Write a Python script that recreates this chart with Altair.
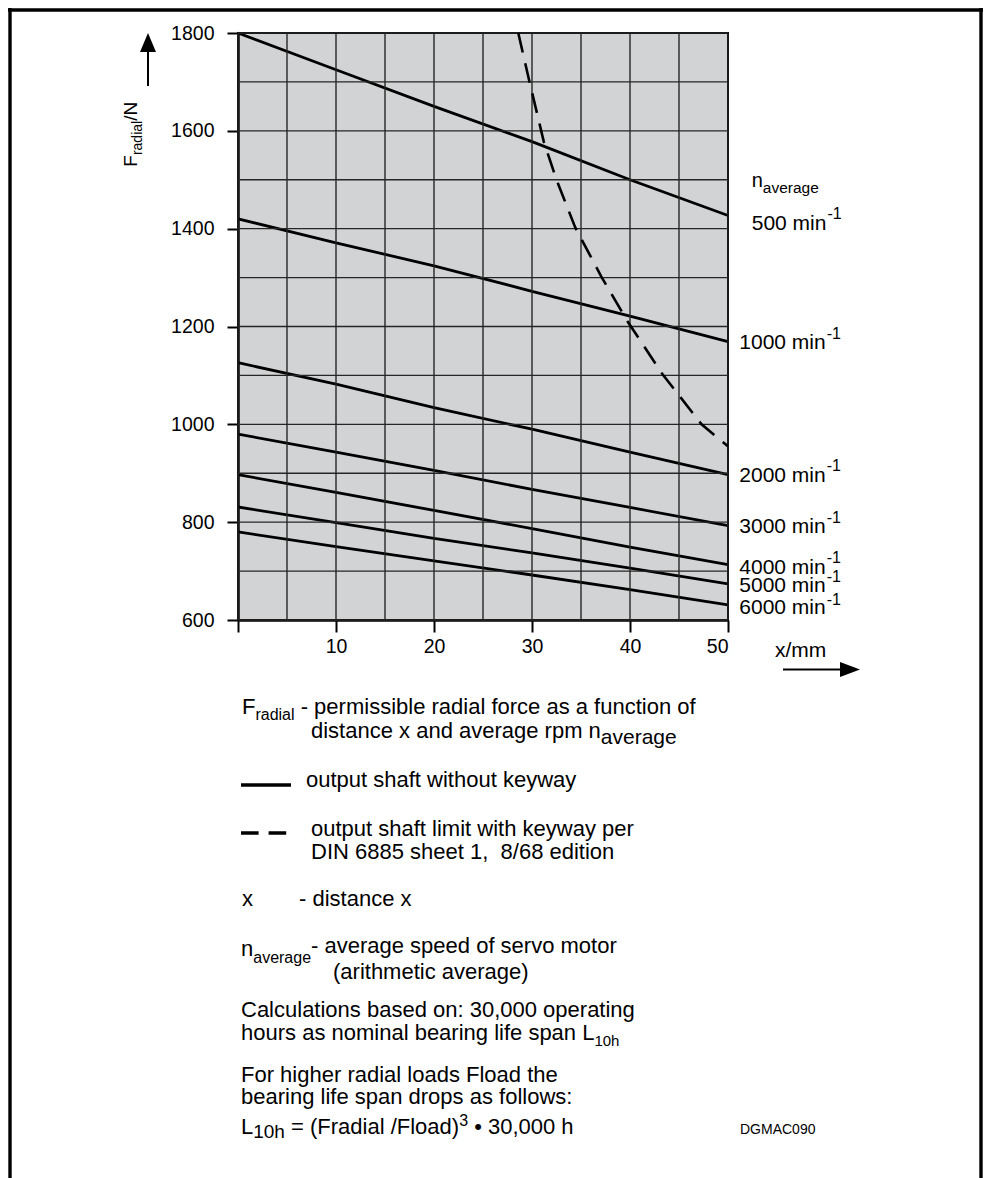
import altair as alt
import pandas as pd

# ---------------- data ----------------
x_mm = [0, 10, 20, 30, 40, 50]
speeds = ["500", "1000", "2000", "3000", "4000", "5000", "6000"]
f_500 = [1800, 1725, 1650, 1578, 1500, 1427]
f_1000 = [1420, 1371, 1324, 1272, 1221, 1169]
f_2000 = [1126, 1082, 1034, 990, 943, 897]
f_3000 = [980, 943, 906, 867, 830, 793]
f_4000 = [897, 861, 824, 787, 749, 713]
f_5000 = [831, 799, 767, 737, 706, 674]
f_6000 = [780, 750, 721, 692, 662, 631]
keyway_x = [28.6, 29.7, 31.2, 32.5, 34.4, 37.1, 39.7, 43.3, 47.3, 50]
keyway_f = [1800, 1704, 1578, 1500, 1403, 1301, 1212, 1103, 1000, 955]
grid_x = list(range(0, 51, 5))
grid_y = list(range(600, 1801, 100))
x_ticks = [0, 10, 20, 30, 40, 50]
y_ticks = [600, 800, 1000, 1200, 1400, 1600, 1800]
speed_labels = [s + " min" for s in speeds]

curves = dict(zip(speeds, [f_500, f_1000, f_2000, f_3000, f_4000, f_5000, f_6000]))

# ---------------- layout ----------------
FONT = "Liberation Sans"
OX, OY = 238, 33          # page position of plot origin
W, H = 490, 587
PAD_L, PAD_T = OX - 8, OY - 8
TOT_W, TOT_H = 975, 1170
TS = 22                   # note text size

AW = {' ': 278, '(': 333, ')': 333, ',': 278, '-': 333, '.': 278, '/': 278, ':': 278,
      '=': 584, '\u2022': 350,
      'A': 667, 'B': 667, 'C': 722, 'D': 722, 'E': 667, 'F': 611, 'G': 778, 'H': 722,
      'I': 278, 'L': 556, 'M': 833, 'N': 722, 'O': 778, 'P': 667, 'R': 722, 'S': 667,
      'T': 611, 'a': 556, 'b': 556, 'c': 500, 'd': 556, 'e': 556, 'f': 278, 'g': 556,
      'h': 556, 'i': 222, 'j': 222, 'k': 500, 'l': 222, 'm': 833, 'n': 556, 'o': 556,
      'p': 556, 'q': 556, 'r': 333, 's': 500, 't': 278, 'u': 556, 'v': 500, 'w': 722,
      'x': 500, 'y': 500, 'z': 500}


def tw(s, size):
    return sum(AW.get(c, 556) for c in s) * size / 1000.0


def one():
    return alt.Data(values=[{"a": 1}])


def text_at(s, px, py, size, angle=0, baseline="alphabetic", align="left"):
    # SVG drops leading blanks, so turn them into an x offset
    lead = len(s) - len(s.lstrip(" "))
    px += lead * AW[' '] * size / 1000.0
    s = s.lstrip(" ")
    return alt.Chart(alt.Data(values=[{"t": s}])).mark_text(
        font=FONT, fontSize=size, color="black", align=align, baseline=baseline,
        angle=angle).encode(x=alt.value(px - OX), y=alt.value(py - OY), text="t:N")


def runs(px, py, parts):
    out = []
    for s, size, dy in parts:
        if s.strip():
            out.append(text_at(s, px, py + dy, size))
        px += tw(s, size)
    return out


def hrule(x1, x2, y, width=2, dash=None):
    kw = dict(color="black", strokeWidth=width)
    if dash:
        kw["strokeDash"] = dash
    return alt.Chart(one()).mark_rule(**kw).encode(
        x=alt.value(x1 - OX), x2=alt.value(x2 - OX), y=alt.value(y - OY))


def vrule(x, y1, y2, width=2):
    return alt.Chart(one()).mark_rule(color="black", strokeWidth=width).encode(
        x=alt.value(x - OX), y=alt.value(y1 - OY), y2=alt.value(y2 - OY))


def symbol(path, size, px, py):
    return alt.Chart(one()).mark_point(
        shape=path, size=size, filled=True, color="black", opacity=1, strokeWidth=0
    ).encode(x=alt.value(px - OX), y=alt.value(py - OY))


# ---------------- scales / axes (shared by every data layer) ----------------
SX = alt.Scale(domain=[0, 50], nice=False, zero=False)
SY = alt.Scale(domain=[600, 1800], nice=False, zero=False)
AXX = alt.Axis(values=x_ticks, title=None, grid=False, format="d",
               labelExpr="datum.value == 0 ? '' : datum.label",
               tickSize=12, tickWidth=2, tickColor="black",
               domainColor="black", domainWidth=2.5,
               labelFont=FONT, labelFontSize=19.5, labelColor="black",
               labelPadding=5)
AXY = alt.Axis(values=y_ticks, title=None, grid=False, format="d",
               tickSize=11, tickWidth=2, tickColor="black",
               domainColor="black", domainWidth=2.5,
               labelFont=FONT, labelFontSize=19.5, labelColor="black",
               labelPadding=13)


def X(field):
    return alt.X(field, type="quantitative", scale=SX, axis=AXX)


def Y(field):
    return alt.Y(field, type="quantitative", scale=SY, axis=AXY)


rows = [{"x": x, "f": f, "speed": s} for s in speeds for x, f in zip(x_mm, curves[s])]
df = pd.DataFrame(rows)

vgrid = alt.Chart(pd.DataFrame({"x": grid_x})).mark_rule(
    color="#262626", strokeWidth=1.4).encode(x=X("x"), y=alt.value(0), y2=alt.value(H))
hgrid = alt.Chart(pd.DataFrame({"f": grid_y})).mark_rule(
    color="#262626", strokeWidth=1.4).encode(y=Y("f"), x=alt.value(0), x2=alt.value(W))

lines = alt.Chart(df).mark_line(color="black", strokeWidth=2.8).encode(
    x=X("x"), y=Y("f"), detail="speed:N")

keyway = alt.Chart(pd.DataFrame({"x": keyway_x, "f": keyway_f})).mark_line(
    color="black", strokeWidth=2.6, strokeDash=[20, 11]).encode(x=X("x"), y=Y("f"))

layers = [lines, vgrid, hgrid, keyway]

# right-hand speed labels
layers += runs(751.7, 186.7, [("n", 20, 0), ("average", 15.5, 6)])
lab_pos = [(751.7, 230, 219), (739.3, 349, 339), (739.3, 481.5, 470.7),
           (739.3, 532.5, 523), (739.3, 573.5, 563), (739.3, 591.8, 582.4),
           (739.3, 614, 605)]
for lab, (lx, ly, sy) in zip(speed_labels, lab_pos):
    layers.append(text_at(lab, lx, ly, 21))
    layers.append(text_at("-1", lx + tw(lab, 21) + 1, sy, 16))

# y axis title (rotated) and arrow
layers.append(text_at("F", 137, 166.7, 19, angle=270))
layers.append(text_at("radial", 142, 166.7 - tw("F", 19), 14, angle=270))
layers.append(text_at("/N", 137, 166.7 - tw("F", 19) - tw("radial", 14), 19, angle=270))
layers.append(symbol("M0,-1L0.84,1L-0.84,1Z", 361, 148, 42.5))
layers.append(vrule(148, 51, 86, 2))

# x axis title and arrow
layers.append(text_at("x/mm", 775, 656.7, 21))
layers.append(hrule(783, 842, 669.5, 2))
layers.append(symbol("M1,0L-1,-0.75L-1,0.75Z", 400, 850, 669.5))

# legend / notes
layers += runs(242, 714, [("F", TS, 0), ("radial", 16, 6),
                          (" - permissible radial force as a function of", TS, 0)])
layers += runs(311, 737.5, [("distance x and average rpm n", TS, 0), ("average", 21, 6)])
layers.append(hrule(241, 291, 785, 3.5))
layers.append(text_at("output shaft without keyway", 306, 787, TS))
layers.append(hrule(241, 287, 833, 3.5, dash=[17.6, 10]))
layers.append(text_at("output shaft limit with keyway per", 311, 835.5, TS))
layers += runs(311, 859, [("DIN 6885 sheet 1,", TS, 0), ("  ", TS, 0), ("8/68 edition", TS, 0)])
layers.append(text_at("x", 242, 906, TS))
layers.append(text_at("- distance x", 299, 906, TS))
layers += runs(241, 956, [("n", TS, 0), ("average", 16, 6.6),
                          ("- average speed of servo motor", TS, -3)])
layers.append(text_at("(arithmetic average)", 333, 979, TS))
layers.append(text_at("Calculations based on: 30,000 operating", 241, 1016.5, TS))
layers += runs(241, 1040, [("hours as nominal bearing life span L", TS, 0), ("10h", 15, 6)])
layers.append(text_at("For higher radial loads Fload the", 241, 1082, TS))
layers.append(text_at("bearing life span drops as follows:", 241, 1104, TS))
layers += runs(241, 1134, [("L", TS, 0), ("10h", 19, 4), (" = (Fradial /Fload)", TS, 0),
                           ("3", 16, -8), (" \u2022 30,000 h", TS, 0)])
layers.append(text_at("DGMAC090", 740, 1134, 14))

# page frame (top, left, right)
layers.append(hrule(8, 983, 10, 3.6))
layers.append(vrule(10, 8, 1178, 3.4))
layers.append(vrule(981, 8, 1178, 3.4))

chart = alt.layer(*layers).properties(
    width=W, height=H,
    autosize=alt.AutoSizeParams(type="none"),
    padding={"left": PAD_L, "top": PAD_T, "right": TOT_W - PAD_L - W,
             "bottom": TOT_H - PAD_T - H},
    background="white",
).configure_view(fill="#d2d3d5", stroke="black", strokeWidth=2)

chart.save("out.html", embed_options={"renderer": "svg", "actions": False})
